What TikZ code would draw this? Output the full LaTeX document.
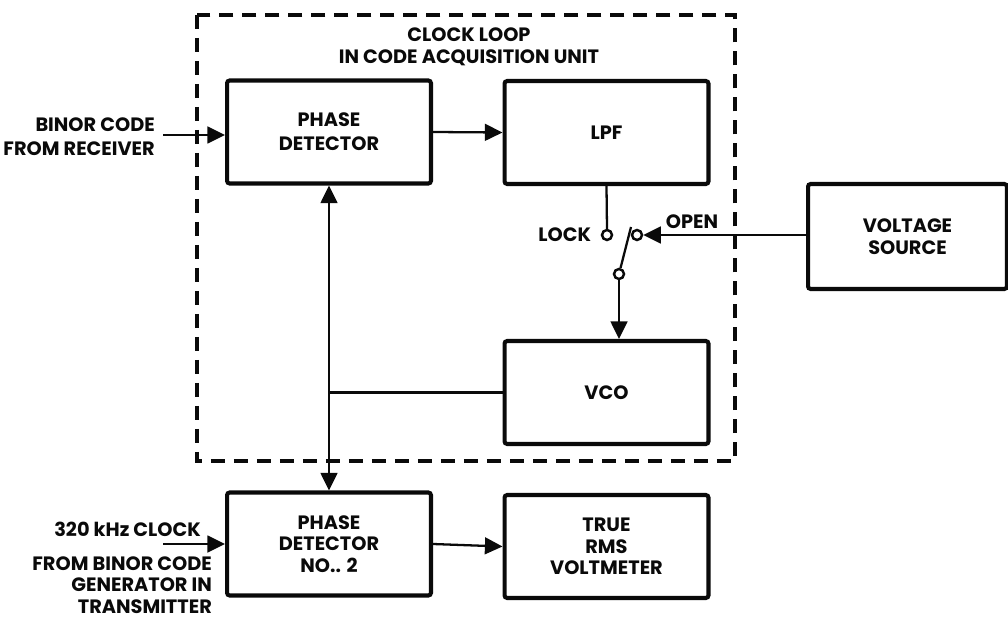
\documentclass[tikz,border=0pt]{standalone}
\usepackage{fontspec}
\setmainfont{Poppins}
\usetikzlibrary{arrows.meta,positioning}
\definecolor{ink}{HTML}{0A0A0A}

\begin{document}
\begin{tikzpicture}[x=0.02cm, y=-0.02cm,
    every node/.style={font=\fontsize{11}{12.3}\selectfont\bfseries, text=ink},
    blk/.style={draw=ink, line width=2.3pt, rounded corners=1.5pt, minimum width=4.08cm, minimum height=2.06cm, align=center, inner sep=0pt},
    conn/.style={draw=ink, line width=1.3pt},
    tip/.style={-{Triangle[length=10pt,width=9.5pt]}},
    contact/.style={circle, draw=ink, line width=1.4pt, fill=white, minimum size=0.2cm, inner sep=0pt}]
  \useasboundingbox (0,0) rectangle (1008,618);
  \draw[ink, line width=1.8pt, dash pattern=on 0.29cm off 0.17cm] (197,15) rectangle (735,461);
  \node[align=center] (title) at (469,47) {CLOCK LOOP\\IN CODE ACQUISITION UNIT};
  \node[blk] (pd) at (329,132) {PHASE\\[1.5pt]DETECTOR};
  \node[blk] (lpf) at (606.5,132.5) {LPF};
  \node[blk] (vco) at (606.5,392.5) {VCO};
  \node[blk, minimum width=3.98cm, minimum height=2.1cm] (vsrc) at (907.5,236.5) {VOLTAGE\\SOURCE};
  \node[blk] (pd2) at (329,544) {PHASE\\DETECTOR\\NO.. 2};
  \node[blk] (rms) at (606.5,546.5) {TRUE\\RMS\\VOLTMETER};
  \node[contact] (lockc) at (607,235) {};
  \node[contact] (openc) at (637,235) {};
  \node[contact] (pivot) at (619,274) {};
  \coordinate (blade) at (631,227);
  \node[left=2pt of lockc] (locklbl) {LOCK};
  \node (openlbl) at (692,222) {OPEN};
  \node[anchor=east, align=right] (binlbl) at (161,137) {BINOR CODE\\[1.5pt]FROM RECEIVER};
  \coordinate (binin) at (163,135);
  \node[anchor=east] (clklbl) at (207,529) {320 kHz CLOCK};
  \coordinate (clkin) at (163,544);
  \node[anchor=east, align=right, inner sep=1pt] (genlbl) at (214,585) {FROM BINOR CODE\\GENERATOR IN\\TRANSMITTER};
  \draw[conn, tip] (binin) -- (binin -| pd.west);
  \draw[conn, tip] (pd.east) -- (lpf.west);
  \draw[conn] (lpf.south) -- (lockc.north);
  \draw[conn] (pivot) -- (blade);
  \draw[conn, tip] (vsrc.west |- openc) -- (openc.east);
  \draw[conn, tip] (pivot.south) -- (pivot.south |- vco.north);
  \draw[conn, {Triangle[length=10pt,width=9.5pt]}-{Triangle[length=10pt,width=9.5pt]}] (pd.south) -- (pd2.north);
  \draw[conn] (vco.west) -- (vco.west -| pd.south);
  \draw[conn, tip] (clkin) -- (clkin -| pd2.west);
  \draw[conn, tip] (pd2.east) -- (rms.west);
\end{tikzpicture}
\end{document}
